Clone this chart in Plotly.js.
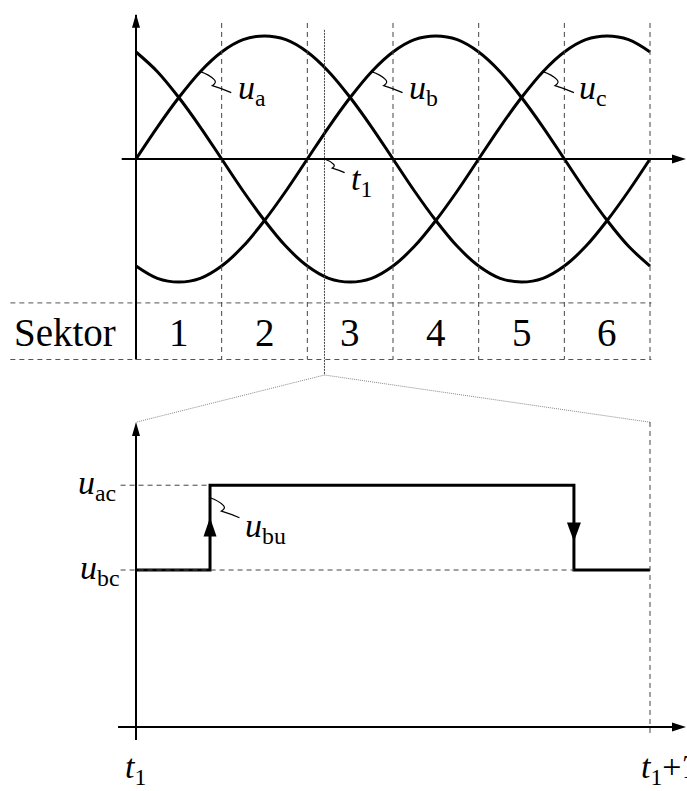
<!DOCTYPE html>
<html>
<head>
<meta charset="utf-8">
<script src="https://cdn.plot.ly/plotly-3.0.1.min.js"></script>
<style>
  html, body { margin: 0; padding: 0; background: #fff; font-family: 'Liberation Serif', serif; }
  #chart { width: 687px; height: 791px; }
  #chart text { font-family: 'Liberation Serif', 'Times New Roman', serif !important; }
</style>
</head>
<body>
<div id="chart"></div>
<script>
// Electrical angle (degrees) over one period of the three phase voltages
const theta = [0, 15, 30, 45, 60, 75, 90, 105, 120, 135, 150, 165, 180,
               195, 210, 225, 240, 255, 270, 285, 300, 315, 330, 345, 360];
// Phase voltages, normalised to the amplitude
const uA = [0, 0.26, 0.5, 0.71, 0.87, 0.97, 1, 0.97, 0.87, 0.71, 0.5, 0.26, 0,
            -0.26, -0.5, -0.71, -0.87, -0.97, -1, -0.97, -0.87, -0.71, -0.5, -0.26, 0];
const uB = [-0.87, -0.97, -1, -0.97, -0.87, -0.71, -0.5, -0.26, 0, 0.26, 0.5, 0.71, 0.87,
            0.97, 1, 0.97, 0.87, 0.71, 0.5, 0.26, 0, -0.26, -0.5, -0.71, -0.87];
const uC = [0.87, 0.71, 0.5, 0.26, 0, -0.26, -0.5, -0.71, -0.87, -0.97, -1, -0.97, -0.87,
            -0.71, -0.5, -0.26, 0, 0.26, 0.5, 0.71, 0.87, 0.97, 1, 0.97, 0.87];

// Sector boundaries and names
const sectorEdges = [0, 60, 120, 180, 240, 300, 360];
const sectorNames = ['1', '2', '3', '4', '5', '6'];
const t1Deg = 132;          // position of t1 inside sector 3

// Zoomed pulse period t1 ... t1+Tp (t in units of Tp)
const levelBC = 1.0;        // u_bc
const levelAC = 1.54;       // u_ac
const stepT = [0, 0.144, 0.852, 1.0];
const stepU = [levelBC, levelAC, levelBC, levelBC];

const FONT = 'Liberation Serif';
const BLACK = '#000';
const DASH = '5px,4px';

// axis ranges (both panels share the full page)
const RX = [-95.25, 385.9], RY = [-5.138, 1.2927];
const RX2 = [-0.26459, 1.07198], RY2 = [-0.40764, 4.6306];

// helpers ------------------------------------------------------------
function line(xref, yref, x0, y0, x1, y1, opts) {
  return Object.assign({type: 'line', xref, yref, x0, y0, x1, y1,
    line: {color: BLACK, width: 2}}, opts || {});
}
function pixPath(xref, yref, x, y, path, filled, lw) {
  return {type: 'path', xref, yref, xsizemode: 'pixel', ysizemode: 'pixel',
    xanchor: x, yanchor: y, path,
    fillcolor: filled ? BLACK : 'rgba(0,0,0,0)',
    line: {color: BLACK, width: filled ? 0 : (lw || 1.2)}};
}
// filled arrow heads, tip at the anchor
const headUp = 'M0,0 L-4,-14 L4,-14 Z';
const headRight = 'M0,0 L-14,4.5 L-14,-4.5 Z';
function squiggle(s) {
  const p = [[0,0],[9,-3],[14,-8],[17,-11],[12,-14],[22,-17],[31,-21]]
    .map(q => [q[0] * s, q[1] * s]);
  return 'M' + p[0].join(',') + ' Q' + p[1].join(',') + ' ' + p[2].join(',') +
         ' Q' + p[3].join(',') + ' ' + p[4].join(',') +
         ' Q' + p[5].join(',') + ' ' + p[6].join(',');
}
// labels are placed in page fractions converted from axis values
function frac(v, r) { return (v - r[0]) / (r[1] - r[0]); }
function label(panel, x, y, text, size, xanchor) {
  const rx = panel === 2 ? RX2 : RX, ry = panel === 2 ? RY2 : RY;
  return {xref: 'paper', yref: 'paper', x: frac(x, rx), y: frac(y, ry), text,
    showarrow: false, xanchor: xanchor || 'left', yanchor: 'middle',
    font: {family: FONT, size: size || 34, color: BLACK}};
}

// traces -------------------------------------------------------------
const curveLine = {color: BLACK, width: 3, shape: 'spline', smoothing: 1};
const traces = [
  {x: theta, y: uA, type: 'scatter', mode: 'lines', line: curveLine, hoverinfo: 'skip'},
  {x: theta, y: uB, type: 'scatter', mode: 'lines', line: curveLine, hoverinfo: 'skip'},
  {x: theta, y: uC, type: 'scatter', mode: 'lines', line: curveLine, hoverinfo: 'skip'},
  {x: stepT, y: stepU, xaxis: 'x2', yaxis: 'y2', type: 'scatter', mode: 'lines',
   line: {color: BLACK, width: 3, shape: 'hv'}, hoverinfo: 'skip'}
];

// geometry of the upper panel (values in the phase-voltage axis)
const rowTop = -1.17, rowBottom = -1.63, rowMid = -1.41;
const gridTop = 1.106;

const shapes = [];
// sector row: horizontal dashed borders
shapes.push(line('x', 'y', -88, rowTop, 361, rowTop, {line: {color: '#555', width: 1, dash: DASH}}));
shapes.push(line('x', 'y', -88, rowBottom, 361, rowBottom, {line: {color: '#555', width: 1, dash: DASH}}));
// sector boundaries
sectorEdges.slice(1).forEach(e => {
  shapes.push(line('x', 'y', e, gridTop, e, rowBottom, {line: {color: '#444', width: 1, dash: DASH}}));
});
// t1 marker and zoom lines towards the lower panel
shapes.push(line('x', 'y', t1Deg, 1.05, t1Deg, -1.756, {line: {color: '#444', width: 1, dash: '2px,1px'}}));
shapes.push(line('x', 'y', t1Deg, -1.756, 0, -2.14, {line: {color: '#888', width: 1, dash: '1px,1px'}}));
shapes.push(line('x', 'y', t1Deg, -1.756, 360, -2.14, {line: {color: '#888', width: 1, dash: '1px,1px'}}));
// upper axes
shapes.push(line('x', 'y', 0, rowBottom, 0, 1.17));
shapes.push(line('x', 'y', -10, 0, 377, 0));
shapes.push(pixPath('x', 'y', 0, 1.18, headUp, true));
shapes.push(pixPath('x', 'y', 385.2, 0, headRight, true));

// lower panel: reference levels
shapes.push(line('x2', 'y2', -0.03, levelAC, stepT[1], levelAC, {line: {color: '#444', width: 1, dash: DASH}}));
shapes.push(line('x2', 'y2', -0.03, levelBC, stepT[2], levelBC, {line: {color: '#444', width: 1, dash: DASH}}));
shapes.push(line('x2', 'y2', 1, 1.943, 1, -0.05, {line: {color: '#444', width: 1, dash: DASH}}));
// lower axes
shapes.push(line('x2', 'y2', 0, -0.083, 0, 1.86));
shapes.push(line('x2', 'y2', -0.035, 0, 1.05, 0));
shapes.push(pixPath('x2', 'y2', 0, 1.943, headUp, true));
shapes.push(pixPath('x2', 'y2', 1.070, 0, headRight, true));
// switching arrows on the rising and falling edges
const midU = (levelAC + levelBC) / 2;
shapes.push(pixPath('x2', 'y2', stepT[1], midU, 'M0,10 L-6.5,-9 L6.5,-9 Z', true));
shapes.push(pixPath('x2', 'y2', stepT[2], midU, 'M0,-14 L-7,5 L7,5 Z', true));

// label leaders
shapes.push(pixPath('x', 'y', theta[3], uA[3], squiggle(1)));
shapes.push(pixPath('x', 'y', theta[11], uB[11], squiggle(1)));
shapes.push(pixPath('x', 'y', theta[19], uC[19], squiggle(1)));
shapes.push(pixPath('x', 'y', t1Deg, 0, squiggle(0.65)));
shapes.push(pixPath('x2', 'y2', stepT[1], levelAC - 0.08, squiggle(0.95)));

// annotations --------------------------------------------------------
const ann = [];
ann.push(label(1, 70, 0.56, '<i>u</i><sub>a</sub>'));
ann.push(label(1, 190, 0.56, '<i>u</i><sub>b</sub>'));
ann.push(label(1, 309, 0.56, '<i>u</i><sub>c</sub>'));
ann.push(label(1, 149, -0.18, '<i>t</i><sub>1</sub>'));
ann.push(label(1, -50, rowMid, 'Sektor', 39, 'center'));
sectorNames.forEach((s, i) => {
  ann.push(label(1, (sectorEdges[i] + sectorEdges[i + 1]) / 2, rowMid, s, 39, 'center'));
});
ann.push(label(2, -0.035, levelAC, '<i>u</i><sub>ac</sub>', 34, 'right'));
ann.push(label(2, -0.03, levelBC, '<i>u</i><sub>bc</sub>', 34, 'right'));
ann.push(label(2, 0.208, 1.27, '<i>u</i><sub>bu</sub>'));
ann.push(label(2, 0, -0.27, '<i>t</i><sub>1</sub>', 34, 'center'));
ann.push(label(2, 0.978, -0.27, '<i>t</i><sub>1</sub>+<i>T</i><sub>P</sub>', 34, 'left'));

const hidden = {visible: false, showgrid: false, zeroline: false, fixedrange: true};
const layout = {
  width: 687, height: 791,
  margin: {l: 0, r: 0, t: 0, b: 0, pad: 0},
  paper_bgcolor: '#fff', plot_bgcolor: '#fff',
  showlegend: false,
  font: {family: FONT, color: BLACK},
  xaxis: Object.assign({range: RX, domain: [0, 1]}, hidden),
  yaxis: Object.assign({range: RY, domain: [0, 1]}, hidden),
  xaxis2: Object.assign({range: RX2, overlaying: 'x', anchor: 'y2'}, hidden),
  yaxis2: Object.assign({range: RY2, overlaying: 'y', anchor: 'x2'}, hidden),
  shapes: shapes,
  annotations: ann
};

const config = {displayModeBar: false, staticPlot: true};
Plotly.newPlot('chart', traces, layout, config);
// re-layout the labels once the page has settled so text boxes use the serif face
setTimeout(() => {
  Plotly.relayout('chart', {annotations: ann.map(a => Object.assign({}, a))});
}, 150);
</script>
</body>
</html>
